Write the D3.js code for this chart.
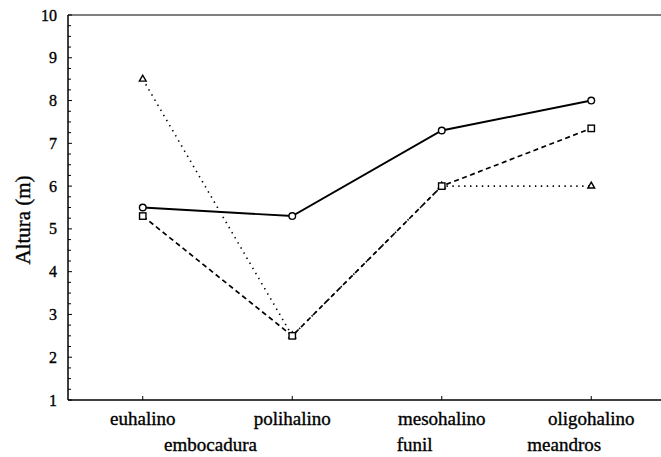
<!DOCTYPE html>
<html><head><meta charset="utf-8">
<script src="https://cdnjs.cloudflare.com/ajax/libs/d3/7.8.5/d3.min.js"></script>
<style>body{margin:0;background:#fff}svg{display:block}</style>
</head><body>
<svg id="c" width="661" height="457"></svg>
<script>
const categories = ["euhalino","polihalino","mesohalino","oligohalino"];
const zones = ["embocadura","funil","meandros"];
const seriesCircle = [5.5, 5.3, 7.3, 8.0];
const seriesSquare = [5.3, 2.5, 6.0, 7.35];
const seriesTriangle = [8.5, 2.5, 6.0, 6.0];
const yTicks = [1,2,3,4,5,6,7,8,9,10];
const yLabel = "Altura (m)";

const FONT = '"Liberation Serif","Times New Roman",serif';
const svg = d3.select("#c");
const L = 68, R = 666, T = 15, B = 400;
const x = d3.scalePoint().domain(categories).range([L, R]).padding(0.5);
const y = d3.scaleLinear().domain([1,10]).range([B, T]);

function txt(sel, size){
  return sel.style("font-family",FONT).style("font-size",size+"px")
    .attr("fill","#000").attr("stroke","#000").attr("stroke-width",0.35);
}

// frame
svg.append("line").attr("x1",L).attr("x2",R).attr("y1",T).attr("y2",T).attr("stroke","#000").attr("stroke-width",1.2);
svg.append("line").attr("x1",L).attr("x2",R).attr("y1",B).attr("y2",B).attr("stroke","#000").attr("stroke-width",1.5);
svg.append("line").attr("x1",L).attr("x2",L).attr("y1",T).attr("y2",B).attr("stroke","#000").attr("stroke-width",1.5);

// y axis ticks
const minor = d3.range(1, 10.001, 0.25);
svg.append("g").selectAll("line").data(minor).join("line")
  .attr("x1",L).attr("x2",d => Number.isInteger(d) ? L+4 : L+3)
  .attr("y1",d=>y(d)).attr("y2",d=>y(d)).attr("stroke","#000").attr("stroke-width",1);
txt(svg.append("g").selectAll("text").data(yTicks).join("text")
  .attr("x",57).attr("y",d=>y(d)+5.5).attr("text-anchor","end"), 16).text(d=>d);

// x ticks
svg.append("g").selectAll("line").data(categories).join("line")
  .attr("x1",d=>x(d)).attr("x2",d=>x(d)).attr("y1",B).attr("y2",B-4).attr("stroke","#000");
txt(svg.append("g").selectAll("text").data(categories).join("text")
  .attr("x",d=>x(d)).attr("y",425).attr("text-anchor","middle"), 19).text(d=>d);
const zonePos = [(x(categories[0])+x(categories[1]))/2 - 7, x(categories[2]) - 45, x(categories[3]) - 64];
txt(svg.append("g").selectAll("text").data(zones).join("text")
  .attr("x",(d,i)=>zonePos[i]).attr("y",451).attr("text-anchor",(d,i)=> i===0 ? "middle" : "start"), 19).text(d=>d);

// y label
txt(svg.append("text").attr("transform","translate(30,220) rotate(-90)").attr("text-anchor","middle"), 21).text(yLabel);

const line = d3.line().x((d,i)=>x(categories[i])).y(d=>y(d));
svg.append("path").datum(seriesTriangle).attr("d",line).attr("fill","none").attr("stroke","#000")
  .attr("stroke-width",1.6).attr("stroke-dasharray","1.4,4.5");
svg.append("path").datum(seriesSquare).attr("d",line).attr("fill","none").attr("stroke","#000")
  .attr("stroke-width",1.7).attr("stroke-dasharray","5,3.5");
svg.append("path").datum(seriesCircle).attr("d",line).attr("fill","none").attr("stroke","#000")
  .attr("stroke-width",1.9);

// markers
svg.append("g").selectAll("path").data(seriesTriangle).join("path")
  .attr("d", d3.symbol(d3.symbolTriangle, 20)())
  .attr("transform",(d,i)=>`translate(${x(categories[i])},${y(d)})`)
  .attr("fill","#fff").attr("stroke","#000").attr("stroke-width",1.4);
svg.append("g").selectAll("rect").data(seriesSquare).join("rect")
  .attr("x",(d,i)=>x(categories[i])-3.2).attr("y",d=>y(d)-3.2).attr("width",6.4).attr("height",6.4)
  .attr("fill","#fff").attr("stroke","#000").attr("stroke-width",1.4);
svg.append("g").selectAll("circle").data(seriesCircle).join("circle")
  .attr("cx",(d,i)=>x(categories[i])).attr("cy",d=>y(d)).attr("r",3.3)
  .attr("fill","#fff").attr("stroke","#000").attr("stroke-width",1.4);
</script>
</body></html>
